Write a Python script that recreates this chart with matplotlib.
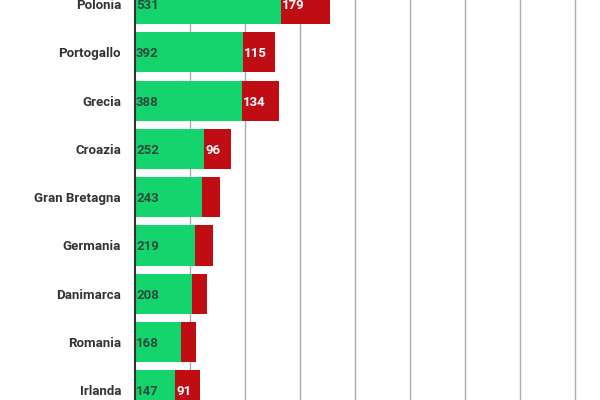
import matplotlib
matplotlib.use("Agg")
import matplotlib.pyplot as plt

countries = ["Polonia","Portogallo","Grecia","Croazia","Gran Bretagna","Germania","Danimarca","Romania","Irlanda"]
green = [531,392,388,252,243,219,208,168,147]
red = [179,115,134,96,65,65,55,55,91]
red_labels = ["179","115","134","96","","","","","91"]

plt.rcParams['font.family'] = ['Roboto','DejaVu Sans']
fig = plt.figure(figsize=(6,4), dpi=100)
ax = fig.add_axes([0.225,0,0.775,1])
y = list(range(len(countries)))
ax.barh(y, green, height=0.83, color="#14d46e", zorder=2)
ax.barh(y, red, left=green, height=0.83, color="#c00d13", zorder=2)
for i in y:
    ax.text(4, i+0.03, str(green[i]), va="center", ha="left", color="#2d4a3a", fontsize=9.5, fontweight="bold", zorder=3)
    if red_labels[i]:
        ax.text(green[i]+4, i+0.03, red_labels[i], va="center", ha="left", color="white", fontsize=9.5, fontweight="bold", zorder=3)
ax.set_xlim(0,1690)
ax.set_ylim(8.2,-0.083)
ax.set_xticks(range(200,1700,200))
ax.grid(axis="x", color="#aaaaaa", linewidth=1.0, zorder=0)
ax.tick_params(length=0, labelbottom=False)
ax.set_yticks(y)
ax.set_yticklabels(countries, fontsize=9.5, fontweight="bold", color="#333333")
ax.tick_params(axis="y", pad=10)
for s in ["top","right","bottom"]:
    ax.spines[s].set_visible(False)
ax.spines["left"].set_color("#333333")
ax.spines["left"].set_linewidth(1.5)
ax.spines["left"].set_zorder(4)
fig.savefig("out.png", dpi=100)
